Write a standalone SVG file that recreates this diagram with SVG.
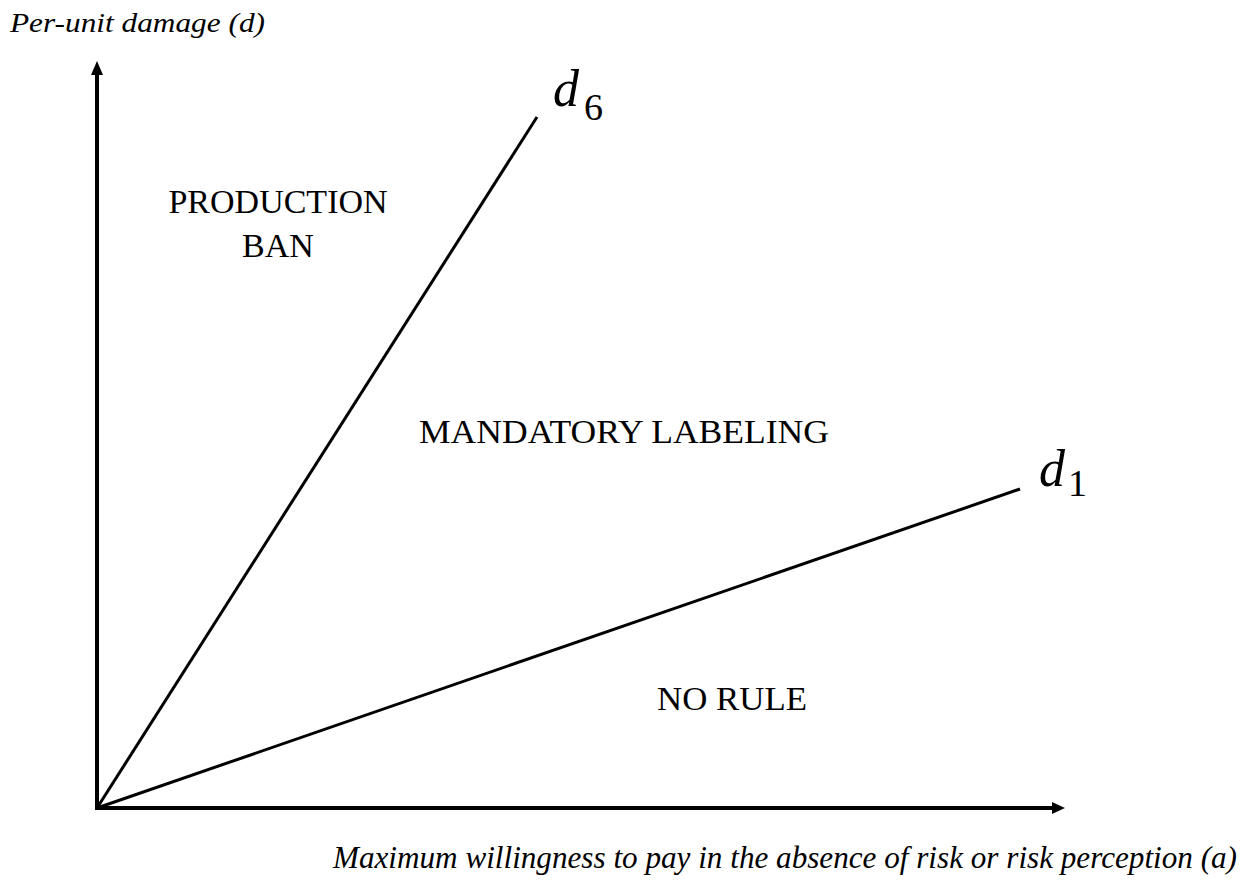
<svg xmlns="http://www.w3.org/2000/svg" width="1252" height="881" viewBox="0 0 1252 881">
<defs>
<style>
.t{font-family:"Liberation Serif","Times New Roman",serif;fill:#000}
.i{font-style:italic}
.reg{font-size:34px}
.ax{stroke:#000;stroke-width:4;fill:none}
.ln{stroke:#000;stroke-width:3;fill:none}
</style>
</defs>
<rect width="1252" height="881" fill="#fff"/>
<g id="connectors">
<line class="ax" x1="97" y1="810" x2="97" y2="72"/>
<polygon points="97,61 91,75 103,75" fill="#000"/>
<line class="ax" x1="95" y1="808" x2="1054" y2="808"/>
<polygon points="1065,808 1052,802 1052,814" fill="#000"/>
<line class="ln" x1="97" y1="808" x2="537" y2="117"/>
<line class="ln" x1="97" y1="808" x2="1020" y2="489"/>
</g>
<g id="axis-y-label"><text class="t i" x="10" y="32" font-size="27" textLength="255" lengthAdjust="spacingAndGlyphs">Per-unit damage (d)</text></g>
<g id="axis-x-label"><text class="t i" x="333" y="868" font-size="31" textLength="904" lengthAdjust="spacingAndGlyphs">Maximum willingness to pay in the absence of risk or risk perception (a)</text></g>
<g id="d6"><text class="t i" x="553" y="106" font-size="52">d</text><text class="t" x="584" y="120" font-size="38">6</text></g>
<g id="d1"><text class="t i" x="1039" y="486" font-size="52">d</text><text class="t" x="1068" y="496" font-size="38">1</text></g>
<g id="production-ban"><text class="t reg" x="278" y="213" text-anchor="middle">PRODUCTION</text><text class="t reg" x="278" y="257" text-anchor="middle">BAN</text></g>
<g id="mandatory"><text class="t reg" x="419" y="443" textLength="410" lengthAdjust="spacingAndGlyphs">MANDATORY LABELING</text></g>
<g id="no-rule"><text class="t reg" x="657" y="710" textLength="150" lengthAdjust="spacingAndGlyphs">NO RULE</text></g>
</svg>
